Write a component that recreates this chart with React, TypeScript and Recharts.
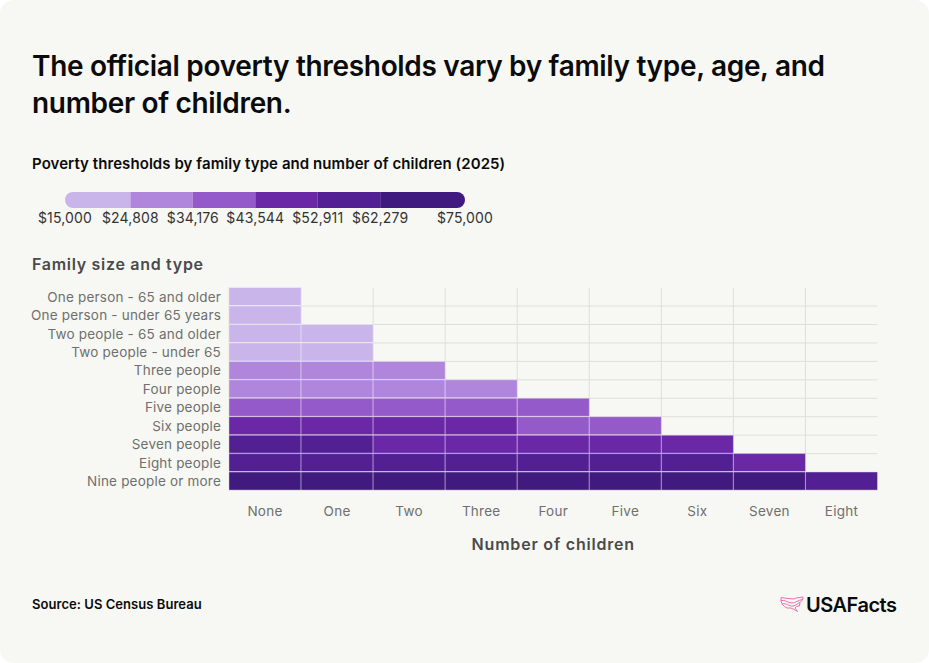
import React from 'react';
import { BarChart, Bar, Cell, XAxis, YAxis, CartesianGrid } from 'recharts';

const FONT = 'Inter, "Noto Sans", sans-serif';

const familyTypes = [
  'One person - 65 and older',
  'One person - under 65 years',
  'Two people - 65 and older',
  'Two people - under 65',
  'Three people',
  'Four people',
  'Five people',
  'Six people',
  'Seven people',
  'Eight people',
  'Nine people or more',
];
const childCounts = ['None', 'One', 'Two', 'Three', 'Four', 'Five', 'Six', 'Seven', 'Eight'];

// estimated, only the colour bucket can be read from the picture
const onePerson65 = [15450];
const onePersonUnder65 = [16760];
const twoPeople65 = [19470, 22120];
const twoPeopleUnder65 = [21570, 22180];
const threePeople = [25200, 25890, 25910];
const fourPeople = [33230, 33770, 32670, 32780];
const fivePeople = [40070, 40650, 39410, 38440, 37860];
const sixPeople = [46090, 46270, 45320, 44400, 43040, 42240];
const sevenPeople = [53030, 53360, 52220, 51420, 49940, 48210, 46310];
const eightPeople = [59310, 59830, 58760, 57810, 56470, 54770, 53000, 52550];
const ninePeople = [71340, 71690, 70740, 69940, 68640, 66840, 65210, 64800, 62270];

const thresholds = [
  onePerson65,
  onePersonUnder65,
  twoPeople65,
  twoPeopleUnder65,
  threePeople,
  fourPeople,
  fivePeople,
  sixPeople,
  sevenPeople,
  eightPeople,
  ninePeople,
];

const legendBreaks = [15000, 24808, 34176, 43544, 52911, 62279, 75000];
const bucketColors = ['#C9B5EA', '#B086DC', '#955AC9', '#6A27A6', '#532094', '#401A7E'];

const colorFor = (value: number) => {
  const i = legendBreaks.findIndex((b, idx) => idx > 0 && value < b);
  return bucketColors[i < 1 ? bucketColors.length - 1 : i - 1];
};

// each cell is one unit wide, colour comes from the threshold
const rows = familyTypes.map((name, r) => {
  const row: Record<string, number | string> = { name };
  thresholds[r].forEach((_, c) => {
    row[`c${c}`] = 1;
  });
  return row;
});

const legendRow: Record<string, number>[] = [
  Object.fromEntries(bucketColors.map((_, i) => [`s${i}`, legendBreaks[i + 1] - legendBreaks[i]])),
];

const MONEY_BASE = legendBreaks[0];

const Logo = () => (
  <svg width="26" height="18" viewBox="0 0 26 18" style={{ position: 'absolute', left: 779, top: 595 }}>
    <g fill="none" stroke="#EE6FB0" strokeWidth="1" strokeLinejoin="round">
      <path d="M2 2.5 L9 3.5 L15 4 L17 3 L24 2 L23.5 5 L21 7.5 L20.5 11 L17.5 11.5 L16 13 L18.5 16.5 L15 14.5 L12 13 L8 13 L5.5 11.5 L3 9 L2 6 Z" />
      <path d="M2 5.5 C6 4.5 9 8 13 8 C17 8 19 5 23.5 4.5" />
      <path d="M3 9 C7 7.5 10 11.5 14 11 C17 10.5 18.5 8.5 21 7.5" />
    </g>
  </svg>
);

const text = (left: number, top: number, style: React.CSSProperties, children: React.ReactNode) => (
  <div style={{ position: 'absolute', left, top, whiteSpace: 'nowrap', ...style }}>{children}</div>
);

export default function App() {
  return (
    <div
      style={{
        position: 'absolute',
        left: 0,
        top: 0,
        width: 929,
        height: 663,
        overflow: 'hidden',
        background: '#fff',
        fontFamily: FONT,
      }}
    >
      <div style={{ position: 'absolute', inset: 0, background: '#F7F8F3', borderRadius: 14 }} />

      {text(32, 48, { fontSize: 28, fontWeight: 600, lineHeight: '37px', color: '#0B0B0B', letterSpacing: -0.32 }, (
        <>
          The official poverty thresholds vary by family type, age, and
          <br />
          number of children.
        </>
      ))}
      {text(32, 154, { fontSize: 15, fontWeight: 600, lineHeight: '20px', color: '#0B0B0B', letterSpacing: 0.07 }, 'Poverty thresholds by family type and number of children (2025)')}
      {text(32, 254, { fontSize: 16, fontWeight: 600, lineHeight: '20px', color: '#4A4A4A', letterSpacing: 0.7 }, 'Family size and type')}
      {text(32, 596, { fontSize: 13, fontWeight: 600, lineHeight: '16px', color: '#0B0B0B', letterSpacing: 0.05 }, 'Source: US Census Bureau')}
      {text(806, 592, { fontSize: 20, fontWeight: 600, lineHeight: '26px', color: '#0B0B0B', letterSpacing: -0.5 }, 'USAFacts')}
      <Logo />

      <div style={{ position: 'absolute', left: 0, top: 192 }}>
        <BarChart
          width={929}
          height={40}
          layout="vertical"
          data={legendRow}
          barCategoryGap={0}
          margin={{ top: 0, right: 464, bottom: 0, left: 65 }}
        >
          <XAxis
            type="number"
            domain={[0, legendBreaks[legendBreaks.length - 1] - MONEY_BASE]}
            ticks={legendBreaks.map((b) => b - MONEY_BASE)}
            tickFormatter={(v: number) => `$${(v + MONEY_BASE).toLocaleString('en-US')}`}
            interval={0}
            axisLine={false}
            tickLine={false}
            height={24}
            tickMargin={0}
            tick={{ fontSize: 14, fill: '#333', fontFamily: FONT, letterSpacing: 0.15, dy: -1 }}
          />
          <YAxis type="category" hide dataKey={() => 'legend'} />
          {bucketColors.map((color, i) => (
            <Bar
              key={color}
              dataKey={`s${i}`}
              stackId="legend"
              fill={color}
              isAnimationActive={false}
              radius={i === 0 ? [8, 0, 0, 8] : i === bucketColors.length - 1 ? [0, 8, 8, 0] : 0}
            />
          ))}
        </BarChart>
      </div>

      <div style={{ position: 'absolute', left: 0, top: 0 }}>
        <BarChart
          width={929}
          height={560.5}
          layout="vertical"
          data={rows}
          barCategoryGap={0}
          margin={{ top: 287.6, right: 51.5, bottom: 0, left: 0 }}
        >
          <CartesianGrid
            stroke="#DEDFDB"
            strokeWidth={1}
            verticalCoordinatesGenerator={({ offset }: any) =>
              childCounts.map((_, i) => offset.left + (offset.width * i) / childCounts.length)
            }
            horizontalCoordinatesGenerator={({ offset }: any) =>
              familyTypes.map((_, i) => offset.top + (offset.height * (i + 1)) / familyTypes.length)
            }
          />
          <XAxis
            type="number"
            domain={[0, childCounts.length]}
            ticks={childCounts.map((_, i) => i + 0.5)}
            tickFormatter={(v: number) => childCounts[Math.floor(v)]}
            interval={0}
            axisLine={false}
            tickLine={false}
            height={70}
            tickMargin={10}
            tick={{ fontSize: 13.5, fill: '#6F6F6F', fontFamily: FONT, letterSpacing: 0.25 }}
            label={{
              value: 'Number of children',
              position: 'insideBottom',
              offset: 11,
              style: { fontSize: 16, fontWeight: 600, fill: '#4A4A4A', fontFamily: FONT, letterSpacing: 0.8 },
            }}
          />
          <YAxis
            type="category"
            dataKey="name"
            width={229}
            interval={0}
            axisLine={false}
            tickLine={false}
            tickMargin={2}
            tick={{ fontSize: 13.5, fill: '#6F6F6F', fontFamily: FONT, letterSpacing: 0.2 }}
          />
          {childCounts.map((child, c) => (
            <Bar
              key={child}
              dataKey={`c${c}`}
              stackId="cells"
              stroke="#FFFFFF"
              strokeOpacity={0.35}
              strokeWidth={1}
              isAnimationActive={false}
            >
              {thresholds.map((values, r) => (
                <Cell key={r} fill={values[c] === undefined ? 'none' : colorFor(values[c])} />
              ))}
            </Bar>
          ))}
        </BarChart>
      </div>
    </div>
  );
}
